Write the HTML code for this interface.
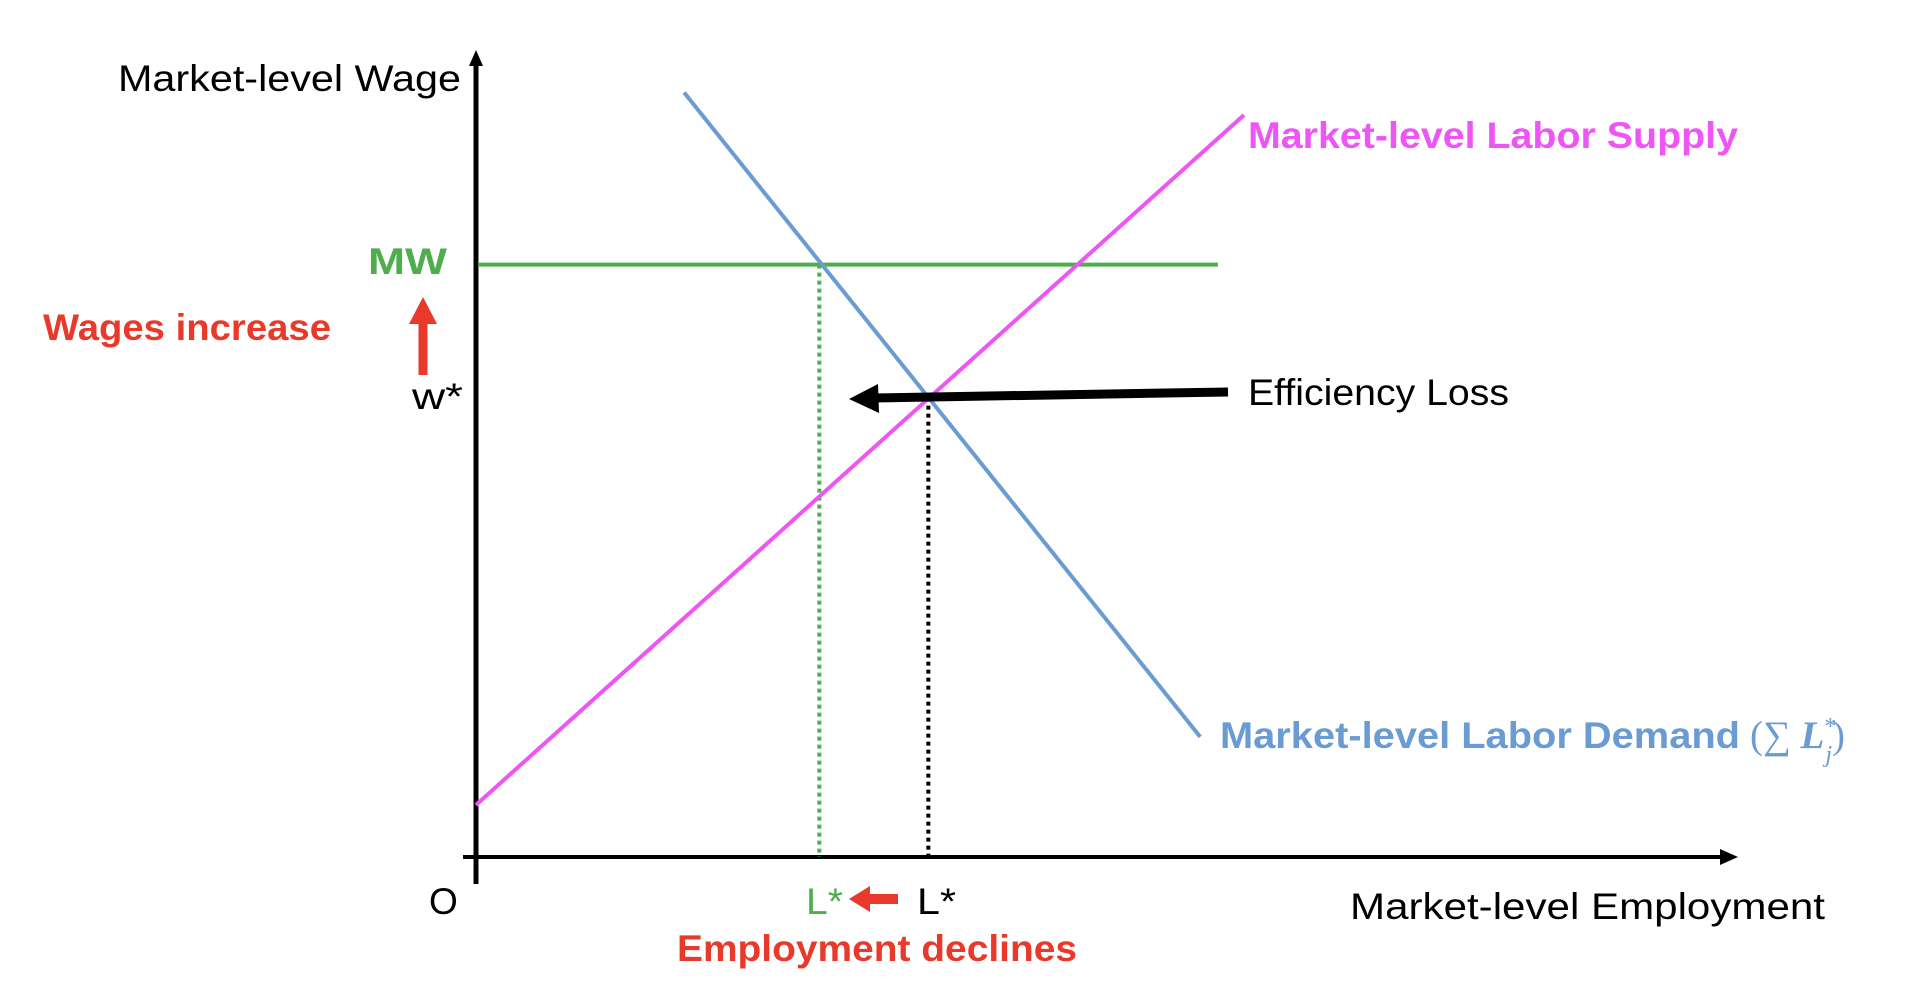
<!DOCTYPE html>
<html><head><meta charset="utf-8"><style>
html,body{margin:0;padding:0;background:#fff;}
svg{display:block;font-family:"Liberation Sans",sans-serif;}
</style></head><body>
<svg id="chart" width="1922" height="986" viewBox="0 0 1922 986" xmlns="http://www.w3.org/2000/svg">
<g id="axes">
<line x1="476" y1="884" x2="476" y2="58" stroke="#000" stroke-width="5"/>
<path d="M476,50 L469,66 L483,66 z" fill="#000"/>
<line x1="463" y1="857" x2="1722" y2="857" stroke="#000" stroke-width="4"/>
<path d="M1738,857 L1720,849 L1720,865 z" fill="#000"/>
</g>
<g id="marks"></g>
<text x="118" y="91" font-size="37" textLength="343" lengthAdjust="spacingAndGlyphs">Market-level Wage</text>
<text x="1350" y="919" font-size="37" textLength="475" lengthAdjust="spacingAndGlyphs">Market-level Employment</text>
<text x="429" y="914" font-size="37">O</text>
<text x="368" y="274" font-size="37" font-weight="bold" fill="#4EAE4E" textLength="79" lengthAdjust="spacingAndGlyphs">MW</text>
<text x="43" y="340" font-size="37" font-weight="bold" fill="#E8392A" textLength="288" lengthAdjust="spacingAndGlyphs">Wages increase</text>
<line x1="423" y1="375" x2="423" y2="318" stroke="#E8392A" stroke-width="9"/>
<path d="M423,297 L409,324 L437,324 z" fill="#E8392A"/>
<text x="412" y="409" font-size="37" textLength="51" lengthAdjust="spacingAndGlyphs">w*</text>
<text x="806" y="914" font-size="37" fill="#4EAE4E" textLength="37" lengthAdjust="spacingAndGlyphs">L*</text>
<line x1="898" y1="899" x2="866" y2="899" stroke="#E8392A" stroke-width="10"/>
<path d="M849,899 L870,886 L870,912 z" fill="#E8392A"/>
<text x="917" y="914" font-size="37" textLength="39" lengthAdjust="spacingAndGlyphs">L*</text>
<text x="677" y="961" font-size="37" font-weight="bold" fill="#E8392A" textLength="400" lengthAdjust="spacingAndGlyphs">Employment declines</text>
<text x="1248" y="148" font-size="37" font-weight="bold" fill="#EE55F5" textLength="490" lengthAdjust="spacingAndGlyphs">Market-level Labor Supply</text>
<text x="1220" y="748" font-size="37" font-weight="bold" fill="#6A9BD2" textLength="520" lengthAdjust="spacingAndGlyphs">Market-level Labor Demand</text>
<text x="1750" y="748" font-size="39" fill="#6A9BD2" font-family="Liberation Serif, serif">(∑<tspan font-style="italic" font-weight="bold"> L</tspan><tspan font-size="24" dy="-14">*</tspan><tspan font-size="24" font-style="italic" dx="-11" dy="28">j</tspan><tspan dy="-14">)</tspan></text>
<line x1="1228" y1="392" x2="872" y2="398" stroke="#000" stroke-width="9"/>
<path d="M849,399 L878,384 L879,413 z" fill="#000"/>
<text x="1248" y="405" font-size="37" textLength="261" lengthAdjust="spacingAndGlyphs">Efficiency Loss</text>
</svg>
<script>
// Data (employment units 0..100, wage units)
const supplyEmployment = [0, 100];
const supplyWage = [9, 92];
const demandEmployment = [27.1, 94.3];
const demandWage = [94.7, 17.2];
const minWage = [74.0];
const minWageRange = [0, 96.6];
const eqEmployment = [58.9];
const mwEmployment = [44.7];
const eqWage = [58.0];

const X0 = 476, X1 = 1244;
const Y0 = 857;
function xs(v){ return X0 + (X1 - X0) * v / 100; }
// wage 9 -> 805px, wage 92 -> 115px
function yScale(v){ return 805 + (115 - 805) * (v - 9) / (92 - 9); }

const g = document.getElementById('marks');
const NS = 'http://www.w3.org/2000/svg';
function line(x1,y1,x2,y2,stroke,w,dash){
  const l = document.createElementNS(NS,'line');
  l.setAttribute('x1',x1);l.setAttribute('y1',y1);l.setAttribute('x2',x2);l.setAttribute('y2',y2);
  l.setAttribute('stroke',stroke);l.setAttribute('stroke-width',w);
  if(dash) l.setAttribute('stroke-dasharray',dash);
  g.appendChild(l);
  return l;
}
let el;
el = line(xs(mwEmployment[0]), yScale(minWage[0]), xs(mwEmployment[0]), Y0, '#4EAE4E', 4, '4 4');


el = line(xs(eqEmployment[0]), yScale(eqWage[0]), xs(eqEmployment[0]), Y0, '#000', 4, '4 4');


el = line(xs(minWageRange[0]) + 2, yScale(minWage[0]), xs(minWageRange[1]), yScale(minWage[0]), '#4EAE4E', 4);


el = line(xs(demandEmployment[0]), yScale(demandWage[0]), xs(demandEmployment[1]), yScale(demandWage[1]), '#6A9BD2', 4);


el = line(xs(supplyEmployment[0]), yScale(supplyWage[0]), xs(supplyEmployment[1]), yScale(supplyWage[1]), '#EE55F5', 4);


</script>
</body></html>
